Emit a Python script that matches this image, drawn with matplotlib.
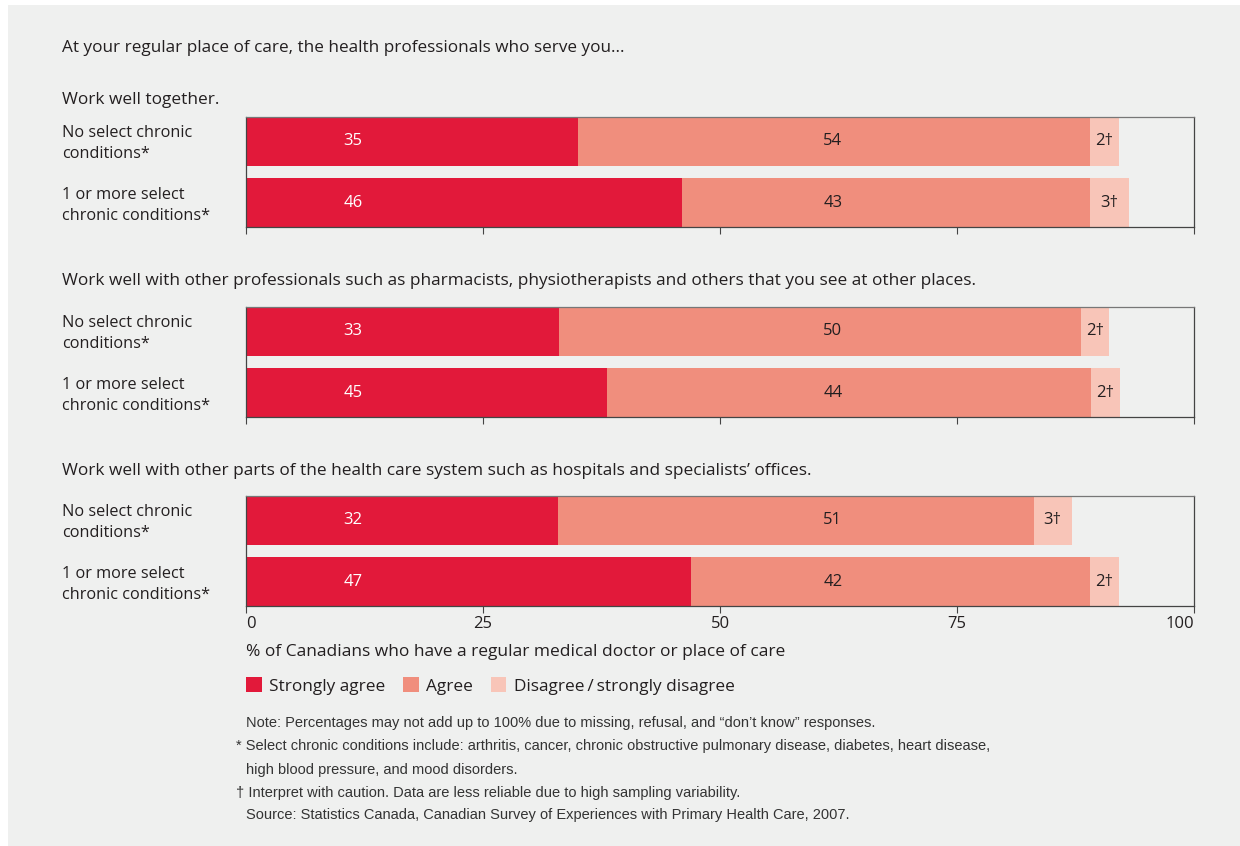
import matplotlib.pyplot as plt
from matplotlib.patches import Rectangle, Patch

# data
questions = ["Work well together.",
             "Work well with other professionals such as pharmacists, physiotherapists and others that you see at other places.",
             "Work well with other parts of the health care system such as hospitals and specialists\u2019 offices."]
groups = ["No select chronic\nconditions*", "1 or more select\nchronic conditions*"]

# bar lengths as drawn
strongly = [[35.0, 46.0], [33.0, 38.1], [32.9, 46.9]]
agree = [[54.0, 43.0], [55.1, 51.0], [50.2, 42.1]]
disagree = [[3.1, 4.1], [2.9, 3.1], [4.0, 3.1]]
# numbers printed on the bars
strongly_lbl = [[35, 46], [33, 45], [32, 47]]
agree_lbl = [[54, 43], [50, 44], [51, 42]]
disagree_lbl = [[2, 3], [2, 2], [3, 2]]

ticks = [0, 25, 50, 75, 100]
series = ["Strongly agree", "Agree", "Disagree\u2009/\u2009strongly disagree"]

red = "#e2193a"
salmon = "#f08e7d"
pink = "#f8c5b8"
bg = "#eff0ef"
ink = "#231f20"

plt.rcParams['font.family'] = ['Open Sans', 'DejaVu Sans']

W, H = 1240, 846
fig = plt.figure(figsize=(W / 100, H / 100), dpi=100, facecolor="white")
fig.patches.append(Rectangle((8 / W, 0), 1 - 8 / W, 1 - 5 / H, transform=fig.transFigure,
                             facecolor=bg, edgecolor="none", zorder=-10))

def fx(x):
    return x / W

def fy(y):
    return 1 - y / H

fig.text(fx(62), fy(48), "At your regular place of care, the health professionals who serve you...",
         fontsize=12.3, color=ink, va="center")

panel_tops = [117, 307, 496]
title_y = [100, 281, 471]
h = 0.79

for i in range(3):
    top = panel_tops[i]
    ax = fig.add_axes([fx(246), fy(top + 110), fx(948), 110 / H])
    ax.set_facecolor(bg)
    y = [0, 1]
    ax.barh(y, strongly[i], height=h, color=red, linewidth=0)
    ax.barh(y, agree[i], left=strongly[i], height=h, color=salmon, linewidth=0)
    left2 = [a + b for a, b in zip(strongly[i], agree[i])]
    ax.barh(y, disagree[i], left=left2, height=h, color=pink, linewidth=0)
    for j in range(2):
        ax.text(11.3, j, str(strongly_lbl[i][j]), color="white", ha="center", va="center", fontsize=12)
        ax.text(61.9, j, str(agree_lbl[i][j]), color=ink, ha="center", va="center", fontsize=12)
        ax.text(left2[j] + disagree[i][j] / 2, j, "%d\u2020" % disagree_lbl[i][j], color=ink,
                ha="center", va="center", fontsize=12)
        ax.annotate(groups[j], xy=(fx(62), j + 0.04), xycoords=("figure fraction", "data"),
                    ha="left", va="center", fontsize=11.7, color=ink, linespacing=1.42)
    ax.set_xlim(0, 100)
    ax.set_ylim(1 + h / 2, -h / 2)
    ax.set_yticks([])
    ax.set_xticks(ticks)
    ax.tick_params(axis="x", length=5, width=0.8, color="#444444", direction="out",
                   labelsize=12, labelcolor=ink, pad=2)
    for s in ax.spines.values():
        s.set_color("#444444")
        s.set_linewidth(0.9)
    ax.spines["top"].set_color("#777777")
    if i < 2:
        ax.set_xticklabels([])
    else:
        labs = ax.set_xticklabels([str(t) for t in ticks])
        labs[0].set_ha("left")
        labs[-1].set_ha("right")
    fig.text(fx(62), fy(title_y[i]), questions[i], fontsize=12.4, color=ink, va="center")

fig.text(fx(246), fy(652), "% of Canadians who have a regular medical doctor or place of care",
         fontsize=12.5, color=ink, va="center")

handles = [Patch(facecolor=c, edgecolor="none") for c in [red, salmon, pink]]
fig.legend(handles, series, loc="center left", bbox_to_anchor=(fx(232), fy(686)), ncol=3,
           frameon=False, fontsize=12.4, handlelength=0.92, handleheight=0.92,
           handletextpad=0.45, columnspacing=1.0, labelcolor=ink, borderpad=0.3)

notes = [(246, 723, "Note: Percentages may not add up to 100% due to missing, refusal, and \u201cdon\u2019t know\u201d responses."),
         (236, 746, "* Select chronic conditions include: arthritis, cancer, chronic obstructive pulmonary disease, diabetes, heart disease,"),
         (246, 770, "high blood pressure, and mood disorders."),
         (236, 793, "\u2020 Interpret with caution. Data are less reliable due to high sampling variability."),
         (246, 815, "Source: Statistics Canada, Canadian Survey of Experiences with Primary Health Care, 2007.")]
for x, yy, t in notes:
    fig.text(fx(x), fy(yy), t, fontsize=10.5, color="#333333", va="center",
             family=['Liberation Sans', 'DejaVu Sans'])

fig.savefig("out.png", dpi=100, facecolor=fig.get_facecolor())
